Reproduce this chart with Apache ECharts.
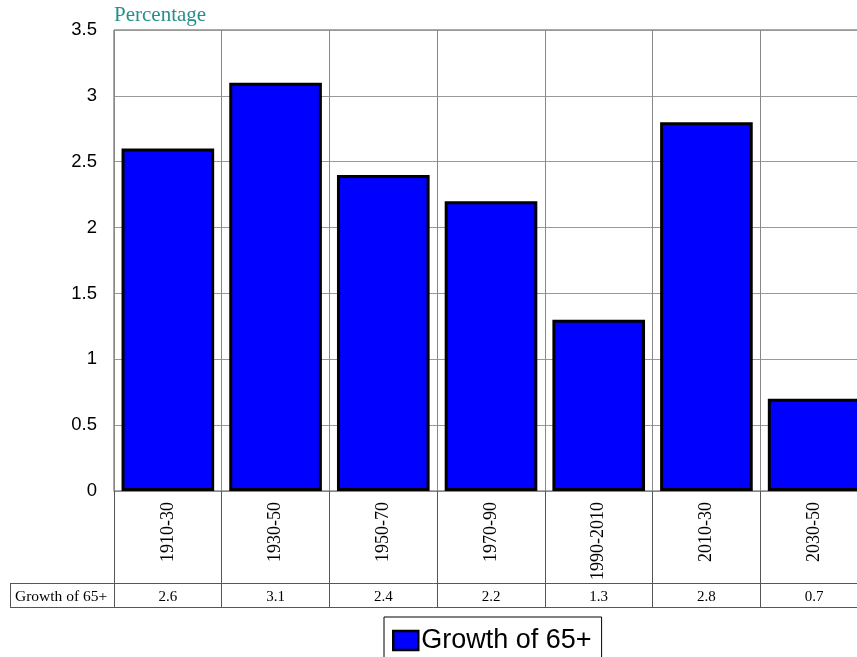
<!DOCTYPE html>
<html><head><meta charset="utf-8">
<script src="https://cdn.jsdelivr.net/npm/echarts@6/dist/echarts.min.js"></script>
<style>html,body{margin:0;padding:0;background:#fff}#c{width:857px;height:657px}</style>
</head><body><div id="c"></div>
<script>
const categories = ['1910-30','1930-50','1950-70','1970-90','1990-2010','2010-30','2030-50'];
const seriesName = 'Growth of 65+';
const values = [2.6, 3.1, 2.4, 2.2, 1.3, 2.8, 0.7];
const yTicks = {min: 0, max: 3.5, interval: 0.5};
const axisTitle = 'Percentage';

const chart = echarts.init(document.getElementById('c'), null, {renderer: 'canvas'});
const serif = 'Liberation Serif';
const sans = 'Liberation Sans';
chart.setOption({
  animation: false,
  title: {text: axisTitle, left: 114, top: 5, padding: 0, textStyle: {fontFamily: serif, fontSize: 21, fontWeight: 'normal', color: '#23918a'}},
  grid: {left: 114, top: 30, width: 754, height: 461, outerBoundsMode: 'none', containLabel: false, show: true, borderColor: '#555', borderWidth: 1},
  legend: {
    data: [seriesName], left: 384, top: 617, orient: 'horizontal',
    borderColor: '#000', borderWidth: 1, padding: [10, 10, 20, 8],
    icon: 'rect', itemWidth: 25, itemHeight: 19, itemGap: 2,
    itemStyle: {borderColor: '#000', borderWidth: 2.5},
    textStyle: {fontFamily: sans, fontSize: 27, color: '#000', padding: [4, 0, 0, -2]}
  },
  xAxis: [{
    type: 'category', data: categories, boundaryGap: true, position: 'bottom',
    axisLine: {show: true, lineStyle: {color: '#888'}},
    axisTick: {show: true, interval: 0, length: 116, inside: false, lineStyle: {color: '#555'}},
    splitLine: {show: true, interval: 0, lineStyle: {color: '#888'}},
    axisLabel: {rotate: 90, interval: 0, margin: 11, fontFamily: serif, fontSize: 18, color: '#000'}
  }, {
    type: 'category', data: values.map(String), boundaryGap: true, position: 'bottom', offset: 98,
    axisLine: {show: false}, axisTick: {show: false}, splitLine: {show: false},
    axisLabel: {interval: 0, margin: 1, fontFamily: serif, fontSize: 15, color: '#000'}
  }],
  yAxis: {
    type: 'value', min: yTicks.min, max: yTicks.max, interval: yTicks.interval,
    axisLine: {show: false}, axisTick: {show: false},
    splitLine: {show: true, lineStyle: {color: '#999'}},
    axisLabel: {margin: 17, fontFamily: sans, fontSize: 18.5, color: '#000', padding: [6, 0, 0, 0]}
  },
  series: [{
    name: seriesName, type: 'bar', data: values, xAxisIndex: 0, barCategoryGap: '14%',
    itemStyle: {color: '#0000ff', borderColor: '#000', borderWidth: 3}
  }],
  graphic: [
    {type: 'line', shape: {x1: 10, y1: 583.5, x2: 857, y2: 583.5}, style: {stroke: '#555', lineWidth: 1}},
    {type: 'line', shape: {x1: 10, y1: 607.5, x2: 857, y2: 607.5}, style: {stroke: '#555', lineWidth: 1}},
    {type: 'line', shape: {x1: 10.5, y1: 583, x2: 10.5, y2: 608}, style: {stroke: '#555', lineWidth: 1}},
    {type: 'text', x: 15, y: 597, style: {text: seriesName, font: '15.5px "Liberation Serif"', fill: '#000', verticalAlign: 'middle'}}
  ]
});
</script></body></html>
